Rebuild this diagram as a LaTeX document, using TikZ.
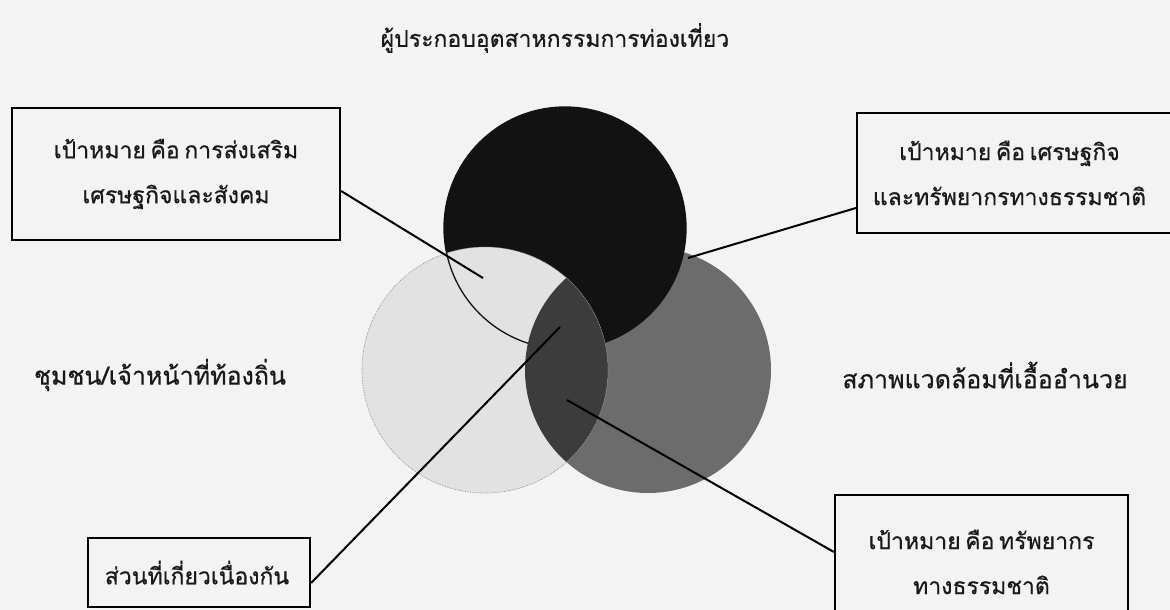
\documentclass[tikz,border=0pt]{standalone}
\usepackage{fontspec}
\newfontfamily\thai[Script=Thai,FakeBold=0.6]{Loma}
\definecolor{bgc}{HTML}{F3F3F3}
\definecolor{lightc}{HTML}{E2E2E2}
\definecolor{midc}{HTML}{6C6C6C}
\definecolor{darkc}{HTML}{3C3C3C}
\definecolor{blackc}{HTML}{121212}
\begin{document}
\begin{tikzpicture}[x=1pt,y=-1pt,
  txt/.style={font=\thai\fontsize{23}{45}\selectfont, text=black!90, inner sep=0pt},
  side/.style={txt, font=\thai\fontsize{25}{45}\selectfont},
  box/.style={txt, draw=black, line width=2.2pt, align=center},
  conn/.style={draw=black, line width=2pt}]
\useasboundingbox (0,0) rectangle (1170,610);
\fill[bgc] (0,0) rectangle (1170,610);
% circles
\fill[midc] (648,370) circle (123);
\fill[blackc] (565,228) circle (121);
\fill[lightc] (485,370) circle (123);
\draw[line width=1.3pt, blackc] (565,228) circle (121);
\begin{scope}
  \clip (485,370) circle (123);
  \fill[darkc] (648,370) circle (123);
\end{scope}
\draw[densely dotted, black!45, line width=0.7pt] (485,370) circle (123);
% labels
\node[txt] (title) at (555,38) {ผู้ประกอบอุตสาหกรรมการท่องเที่ยว};
\node[side] (left) at (160,375) {ชุมชน/เจ้าหน้าที่ท้องถิ่น};
\node[side] (right) at (985,375) {สภาพแวดล้อมที่เอื้ออำนวย};
% boxes
\node[box, minimum width=328pt, minimum height=132pt] (b1) at (176,174) {เป้าหมาย\hspace{0.2em}คือ\hspace{0.2em}การส่งเสริม\\เศรษฐกิจและสังคม};
\node[box, minimum width=315pt, minimum height=120pt] (b4) at (1014.5,173) {\hspace*{-10pt}เป้าหมาย\hspace{0.2em}คือ\hspace{0.2em}เศรษฐกิจ\\\hspace*{-10pt}และทรัพยากรทางธรรมชาติ};
\node[box, minimum width=222pt, minimum height=69pt] (b5) at (199,572.5) {\hspace*{-4pt}ส่วนที่เกี่ยวเนื่องกัน};
\node[box, minimum width=293pt, minimum height=134pt] (b6) at (981.5,562) {เป้าหมาย\hspace{0.2em}คือ\hspace{0.2em}ทรัพยากร\\ทางธรรมชาติ};
% connector ends
\coordinate (e1) at (483,278);
\coordinate (e4) at (688,258);
\coordinate (e5) at (560,327);
\coordinate (e6) at (567,400);
\draw[conn] ([yshift=-17pt]b1.east) -- (e1);
\draw[conn] ([yshift=-35pt]b4.west) -- (e4);
\draw[conn] ([yshift=-10.5pt]b5.east) -- (e5);
\draw[conn] ([yshift=10pt]b6.west) -- (e6);
\end{tikzpicture}
\end{document}
